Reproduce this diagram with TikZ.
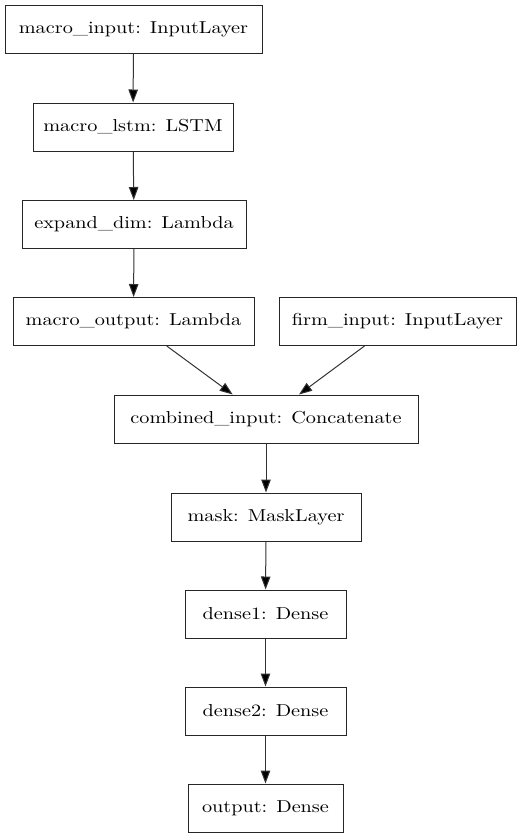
\documentclass[tikz,border=0pt]{standalone}
\usepackage{fontspec}
\newfontfamily\layerfont{lmroman10-regular.otf}[FakeStretch=1.17]
\usetikzlibrary{arrows.meta}
\begin{document}
\begin{tikzpicture}[x=1pt,y=-1pt,
  layer/.style={draw=black!85,line width=1pt,minimum height=48pt,inner sep=0pt,
    font=\layerfont\fontsize{17.3}{20}\selectfont},
  conn/.style={draw=black!80,line width=1pt,-{Triangle[length=13pt,width=9.5pt,fill=black]}}]
\useasboundingbox (0,0) rectangle (522,839);
\node[layer,minimum width=257pt] (mi) at (133.5,29) {macro\_input: InputLayer};
\node[layer,minimum width=200pt] (ml) at (133,127) {macro\_lstm: LSTM};
\node[layer,minimum width=224pt] (ed) at (134,224.5) {expand\_dim: Lambda};
\node[layer,minimum width=241pt] (mo) at (133.5,321.5) {macro\_output: Lambda};
\node[layer,minimum width=237pt] (fi) at (397.5,321.5) {firm\_input: InputLayer};
\node[layer,minimum width=304pt] (ci) at (266,419) {combined\_input: Concatenate};
\node[layer,minimum width=190pt] (mk) at (266,517) {mask: MaskLayer};
\node[layer,minimum width=161pt] (d1) at (265.5,614) {dense1: Dense};
\node[layer,minimum width=161pt] (d2) at (265.5,711) {dense2: Dense};
\node[layer,minimum width=155pt] (out) at (265.5,808) {output: Dense};
\draw[conn] (mi) -- (ml);
\draw[conn] (ml) -- (ed);
\draw[conn] (ed) -- (mo);
\draw[conn] (mo) -- (ci);
\draw[conn] (fi) -- (ci);
\draw[conn] (ci) -- (mk);
\draw[conn] (mk) -- (d1);
\draw[conn] (d1) -- (d2);
\draw[conn] (d2) -- (out);
\end{tikzpicture}
\end{document}
